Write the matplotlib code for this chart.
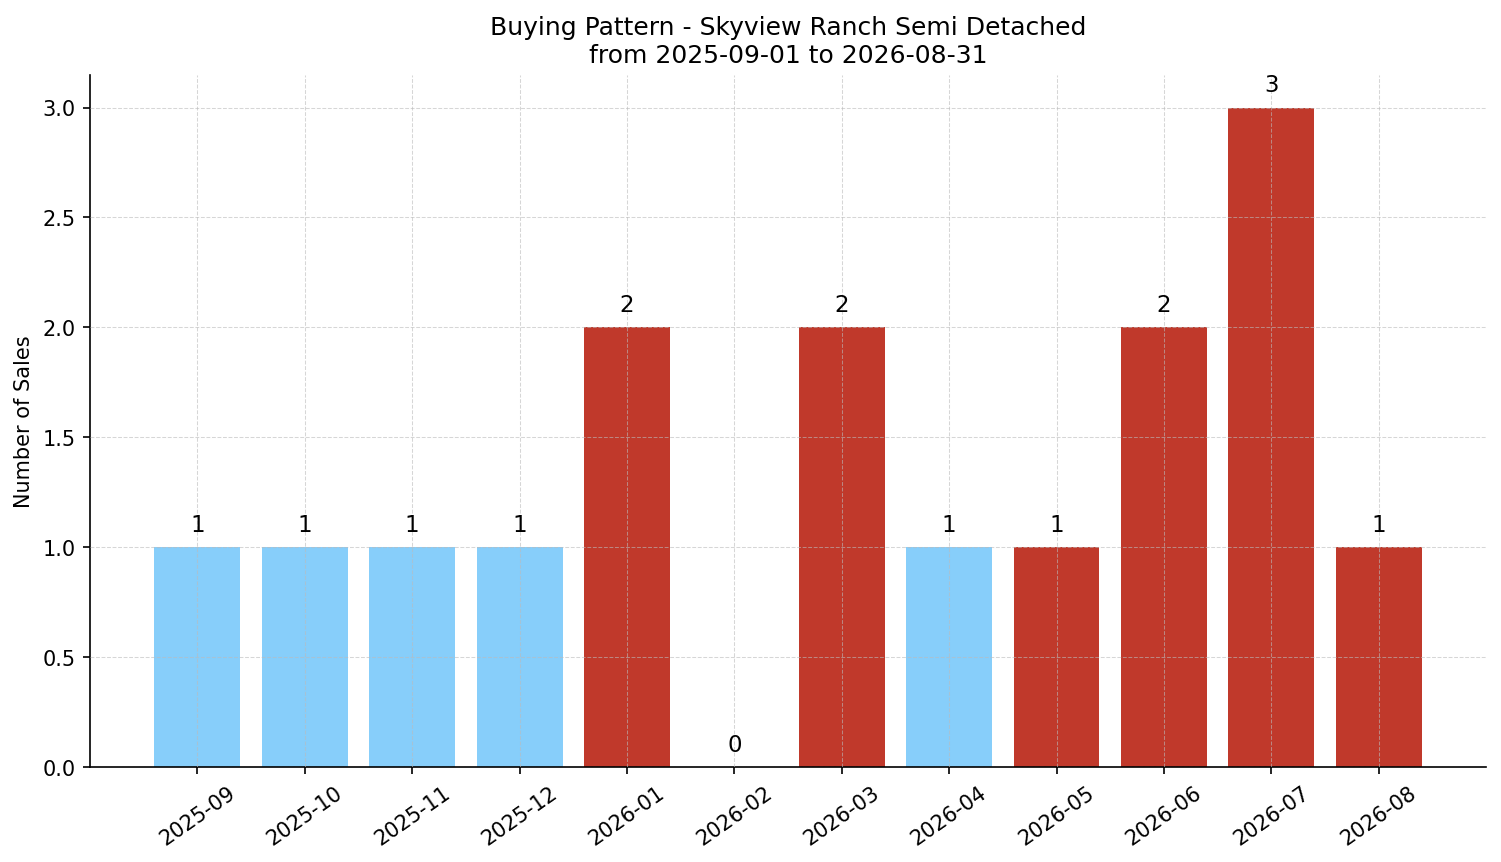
import matplotlib
matplotlib.use("Agg")
from matplotlib import pyplot as plt

months = ["2025-09", "2025-10", "2025-11", "2025-12", "2026-01", "2026-02",
          "2026-03", "2026-04", "2026-05", "2026-06", "2026-07", "2026-08"]
sales = [1, 1, 1, 1, 2, 0, 2, 1, 1, 2, 3, 1]
# which months are drawn in red in the original
highlight = [False, False, False, False, True, True, True, False, True, True, True, True]

BLUE = "#87CEFA"
RED = "#C0392B"

fig, ax = plt.subplots(figsize=(10.007, 5.753), dpi=150)
x = list(range(len(months)))
cols = [RED if h else BLUE for h in highlight]
bars = ax.bar(x, sales, width=0.8, color=cols, zorder=2)

for b, v in zip(bars, sales):
    ax.text(b.get_x() + b.get_width() / 2, v + 0.05, str(v),
            ha="center", va="bottom", fontsize=11)

ax.set_xticks(x)
ax.set_xticklabels(months, rotation=35, ha="center", fontsize=10)
ax.tick_params(axis="y", labelsize=10)
ax.set_xlim(-1, len(months))
ax.set_ylim(0, 3.15)
ax.set_ylabel("Number of Sales", fontsize=10)
ax.set_title("Buying Pattern - Skyview Ranch Semi Detached\nfrom 2025-09-01 to 2026-08-31",
             fontsize=12)
ax.grid(True, linestyle="--", linewidth=0.5, color="#bbbbbb", alpha=0.6, zorder=3)
ax.set_axisbelow(False)
ax.spines["top"].set_visible(False)
ax.spines["right"].set_visible(False)

plt.subplots_adjust(left=0.06, right=0.99, top=0.9125, bottom=0.11)
plt.savefig("out.png", dpi=150)
